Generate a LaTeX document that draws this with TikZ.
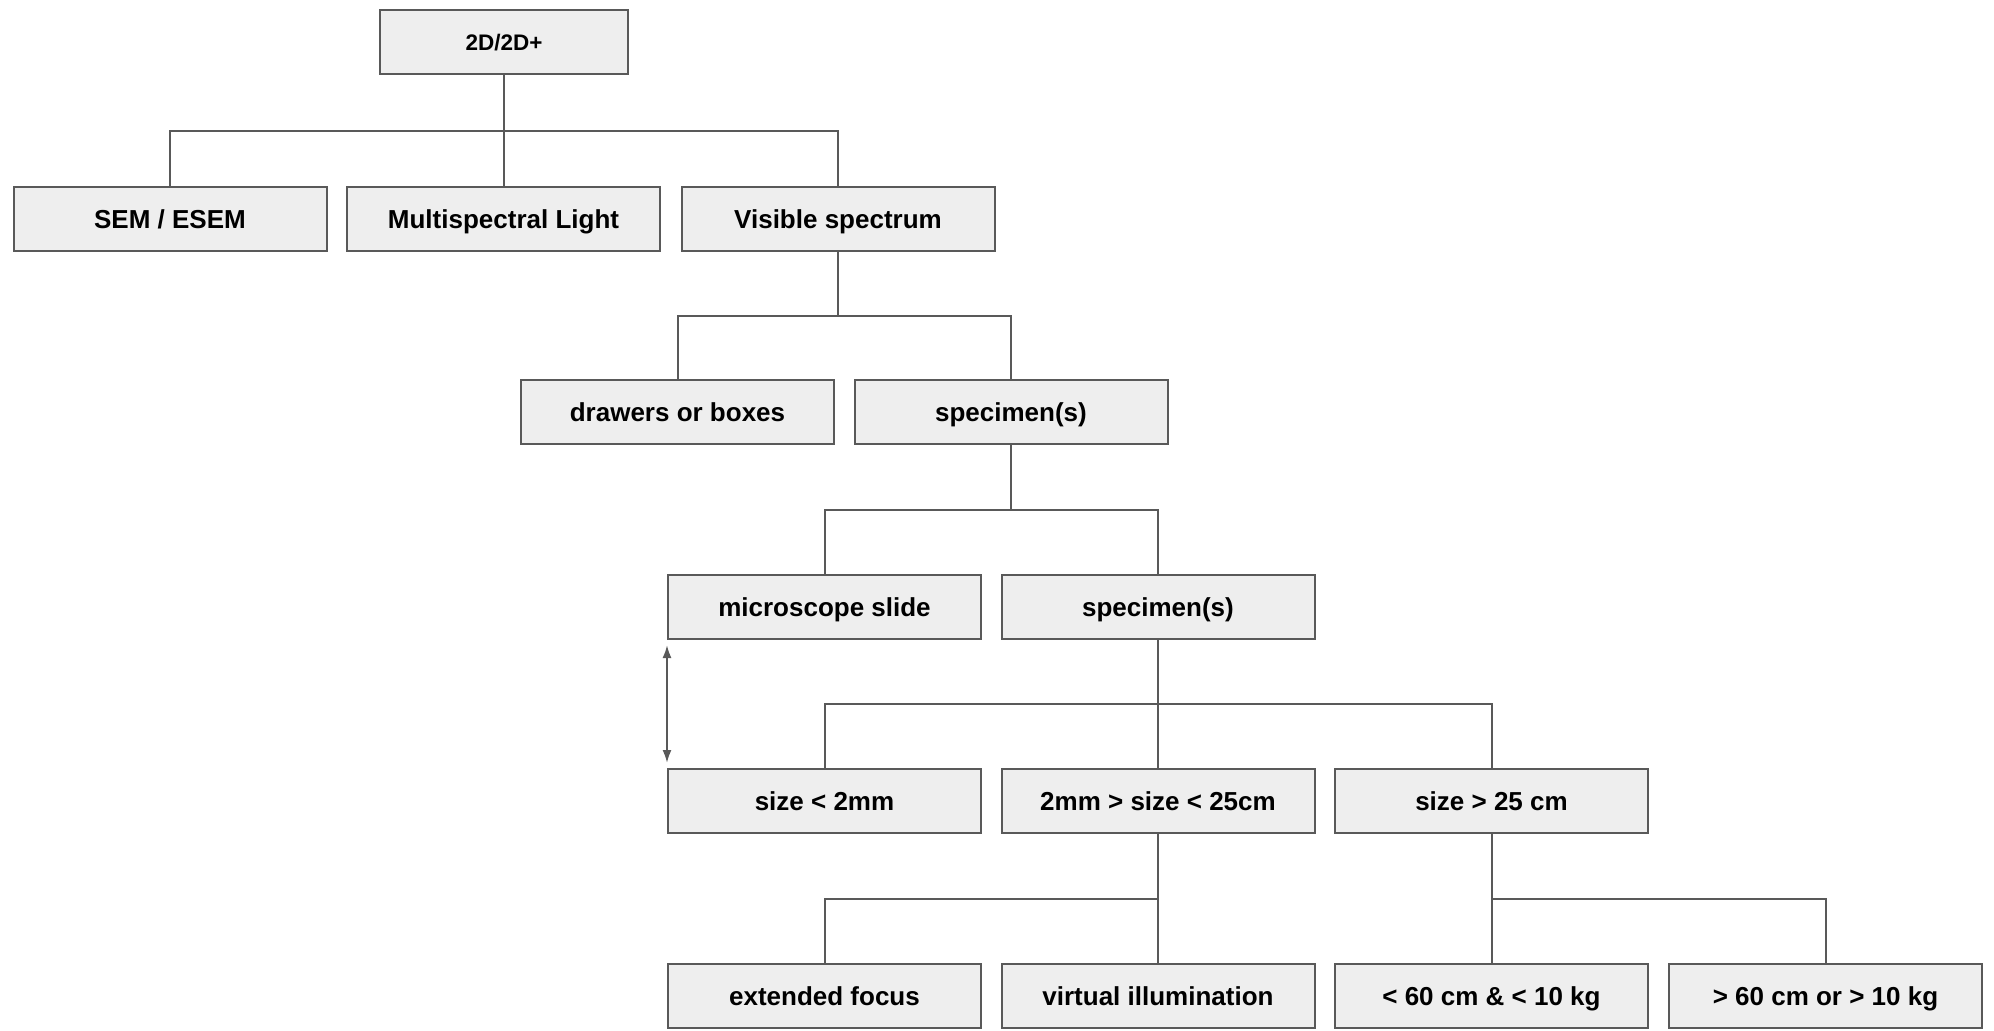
\documentclass[tikz,border=0pt]{standalone}
\usepackage{fontspec}
\setmainfont{Liberation Sans}
\usetikzlibrary{calc,arrows.meta}

\definecolor{linegray}{HTML}{595959}
\definecolor{boxgray}{HTML}{EEEEEE}

\begin{document}
\begin{tikzpicture}[%
x=0.5pt, y=-0.5pt,
box/.style={draw=linegray, fill=boxgray, line width=1pt, minimum width=156.5pt, minimum height=32pt, inner sep=0pt, text height=9.3pt, text depth=0pt, font=\bfseries\fontsize{13}{15}\selectfont},
bus/.style={to path={(\tikztostart) |- ($(\tikztostart)!.5!(\tikztotarget)$) -| (\tikztotarget)}},
link/.style={draw=linegray, line width=1pt},
]
\useasboundingbox (0,0) rectangle (1994,1030);
%% root;
\node [box, minimum width=124pt, text height=8.05pt, font=\bfseries\fontsize{11.25}{13}\selectfont] (root) at (504,42) {2D/2D+};
%% method;
\node [box] (sem) at (170,219) {SEM / ESEM};
\node [box] (multi) at (503.5,219) {Multispectral Light};
\node [box] (visible) at (838,219) {Visible spectrum};
%% object;
\node [box] (drawers) at (677.5,412) {drawers or boxes};
\node [box] (spec) at (1011,412) {specimen(s)};
%% mount;
\node [box] (slide) at (824.5,607) {microscope slide};
\node [box] (specb) at (1158,607) {specimen(s)};
%% size;
\node [box] (small) at (824.5,801) {size < 2mm};
\node [box] (medium) at (1158,801) {2mm > size < 25cm};
\node [box] (large) at (1491.5,801) {size > 25 cm};
%% technique;
\node [box] (focus) at (824.5,996) {extended focus};
\node [box] (illum) at (1158,996) {virtual illumination};
\node [box] (light) at (1491.5,996) {< 60 cm \& < 10 kg};
\node [box] (heavy) at (1825.5,996) {> 60 cm or > 10 kg};
%% links;
\foreach \p/\c in {root/sem, root/multi, root/visible, visible/drawers, visible/spec, spec/slide, spec/specb, specb/small, specb/medium, specb/large, medium/focus, medium/illum, large/light, large/heavy}
  \draw [link] (\p.south) to[bus] (\c.north);
%% arrow;
\draw [link, {Latex[length=6.5pt,width=4.5pt]}-{Latex[length=6.5pt,width=4.5pt]}, shorten <=2.5pt, shorten >=2.5pt] (slide.south west) -- (small.north west);
\end{tikzpicture}
\end{document}
